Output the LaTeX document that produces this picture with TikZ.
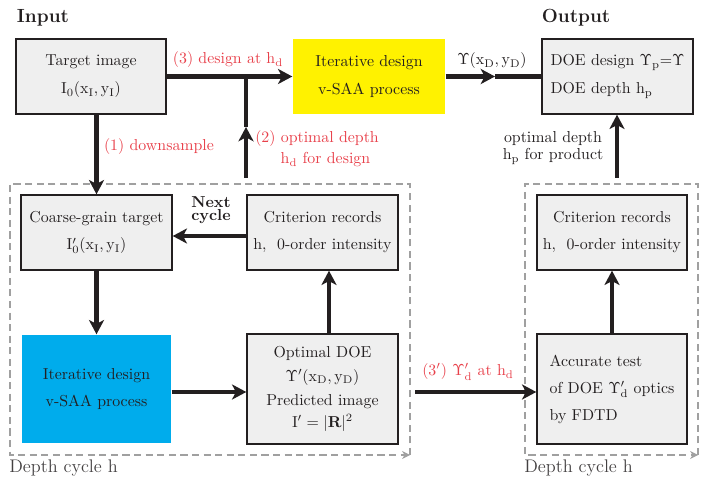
\documentclass[tikz,border=0pt]{standalone}
\usetikzlibrary{arrows.meta}
\definecolor{redlab}{RGB}{232,64,74}
\definecolor{boxgray}{RGB}{239,239,239}
\definecolor{cyanbox}{RGB}{0,172,236}
\definecolor{dashgray}{RGB}{160,160,160}
\definecolor{ink}{RGB}{35,31,32}
\begin{document}
\begin{tikzpicture}[x=0.63pt,y=-0.63pt,
  box/.style={draw=ink, line width=0.9pt, fill=boxgray, inner sep=0pt, align=center, text=ink},
  flow/.style={draw=ink, line width=3pt, -{Stealth[length=9pt,width=9.5pt,inset=2.5pt]}},
  flowplain/.style={draw=ink, line width=3pt},
  redtxt/.style={text=redlab, inner sep=0pt},
  blk/.style={text=ink, inner sep=0pt},
  cyclebox/.style={draw=dashgray, line width=0.7pt, dash pattern=on 4.5pt off 2.8pt, -{Stealth[length=5pt,width=5pt]}},
  cyclelab/.style={text=ink!85, inner sep=0pt, anchor=west, font=\fontsize{11.5}{14}\selectfont}
]
\useasboundingbox (0,0) rectangle (706,480);

% titles
\node[blk, font=\large\bfseries] (inp) at (43,18) {Input};
\node[blk, font=\large\bfseries] (outp) at (576,18) {Output};

% top row
\node[box, minimum width=150*0.63pt, minimum height=75*0.63pt] (tgt) at (91,76.5)
  {Target image\\[5.5pt] $\mathrm{I}_0(\mathrm{x}_\mathrm{I},\mathrm{y}_\mathrm{I})$};
\node[box, draw=none, fill=yellow, minimum width=152*0.63pt, minimum height=75*0.63pt] (yel) at (369,76.5)
  {Iterative design\\[5.5pt] v-SAA process};
\node[box, align=left, minimum width=151*0.63pt, minimum height=75*0.63pt] (outb) at (617.5,76.5)
  {DOE design $\Upsilon_\mathrm{p}{=}\Upsilon$\\[5.5pt] DOE depth $\mathrm{h}_\mathrm{p}$};

% dashed cycle boxes
\coordinate (c1a) at (410,455);
\coordinate (c1b) at (410,184);
\coordinate (c1c) at (10,184);
\coordinate (c1d) at (10,455);
\draw[cyclebox] (c1a) -- (c1b) -- (c1c) -- (c1d) -- (c1a);
\coordinate (c2a) at (698,455);
\coordinate (c2b) at (698,184);
\coordinate (c2c) at (525,184);
\coordinate (c2d) at (525,455);
\draw[cyclebox] (c2a) -- (c2b) -- (c2c) -- (c2d) -- (c2a);
\node[cyclelab] (dc1) at (9,468) {Depth cycle h};
\node[cyclelab] (dc2) at (524,468) {Depth cycle h};

% left cycle
\node[box, minimum width=151*0.63pt, minimum height=75*0.63pt] (coarse) at (96.5,232.5)
  {Coarse-grain target\\[5.5pt] $\mathrm{I}_0'(\mathrm{x}_\mathrm{I},\mathrm{y}_\mathrm{I})$};
\node[box, minimum width=151*0.63pt, minimum height=75*0.63pt] (crit1) at (322.5,232.5)
  {Criterion records\\[5pt] $\mathrm{h},$\ \ 0-order intensity};
\node[box, draw=none, fill=cyanbox, minimum width=149*0.63pt, minimum height=108*0.63pt] (blue) at (96.5,389)
  {Iterative design\\[5.5pt] v-SAA process};
\node[box, minimum width=151*0.63pt, minimum height=110*0.63pt] (opt) at (322.5,389)
  {Optimal DOE\\[3pt] $\Upsilon'(\mathrm{x}_\mathrm{D},\mathrm{y}_\mathrm{D})$\\[3pt] Predicted image\\[2pt] $\mathrm{I}'=|\mathbf{R}|^2$};

% right cycle
\node[box, minimum width=150*0.63pt, minimum height=75*0.63pt] (crit2) at (612,232.5)
  {Criterion records\\[5pt] $\mathrm{h},$\ \ 0-order intensity};
\node[box, align=left, minimum width=150*0.63pt, minimum height=110*0.63pt] (acc) at (612,389)
  {Accurate test\\[5pt] of DOE $\Upsilon_\mathrm{d}'$ optics\\[5pt] by FDTD};

% connectors
\draw[flow] (tgt.east) -- (yel.west);
\coordinate (j2) at (246,76.5);
\coordinate (s2) at (246,178);
\coordinate (m2) at (246,127);
\draw[flow] (s2) -- (m2);
\draw[flowplain] (m2) -- (j2);

\coordinate (m3) at (495,76.5);
\draw[flow] (yel.east) -- (m3);
\draw[flowplain] (m3) -- (outb.west);

\draw[flow] (tgt.south -| coarse.north) -- (coarse.north);
\coordinate (s4) at (617,178);
\draw[flow] (s4) -- (s4 |- outb.south);

\draw[flow] (crit1.west |- 0,236) -- (coarse.east |- 0,236);
\draw[flow] (coarse.south) -- (blue.north);
\draw[flow] (blue.east |- 0,392) -- (opt.west |- 0,392);
\draw[flow] (opt.north -| 329,0) -- (crit1.south -| 329,0);
\coordinate (s5) at (415,392);
\draw[flow] (s5) -- (acc.west |- s5);
\draw[flow] (acc.north) -- (crit2.south);

% labels
\node[redtxt] (l3) at (228,60) {(3) design at $\mathrm{h}_\mathrm{d}$};
\node[redtxt, align=left, anchor=west] (l2) at (255,149) {(2) optimal depth\\[1pt] \hspace*{1.6em}$\mathrm{h}_\mathrm{d}$ for design};
\node[redtxt] (l1) at (159,147) {(1) downsample};
\node[blk] (lu) at (492,61) {$\Upsilon(\mathrm{x}_\mathrm{D},\mathrm{y}_\mathrm{D})$};
\node[blk, align=center] (lp) at (553,148) {optimal depth\\[-1pt] $\mathrm{h}_\mathrm{p}$ for product};
\node[blk, align=center, font=\bfseries] (ln) at (211,210) {Next\\[-3.5pt] cycle};
\node[redtxt] (l3p) at (468,372) {(3$'$) $\Upsilon_\mathrm{d}'$ at $\mathrm{h}_\mathrm{d}$};
\end{tikzpicture}
\end{document}
